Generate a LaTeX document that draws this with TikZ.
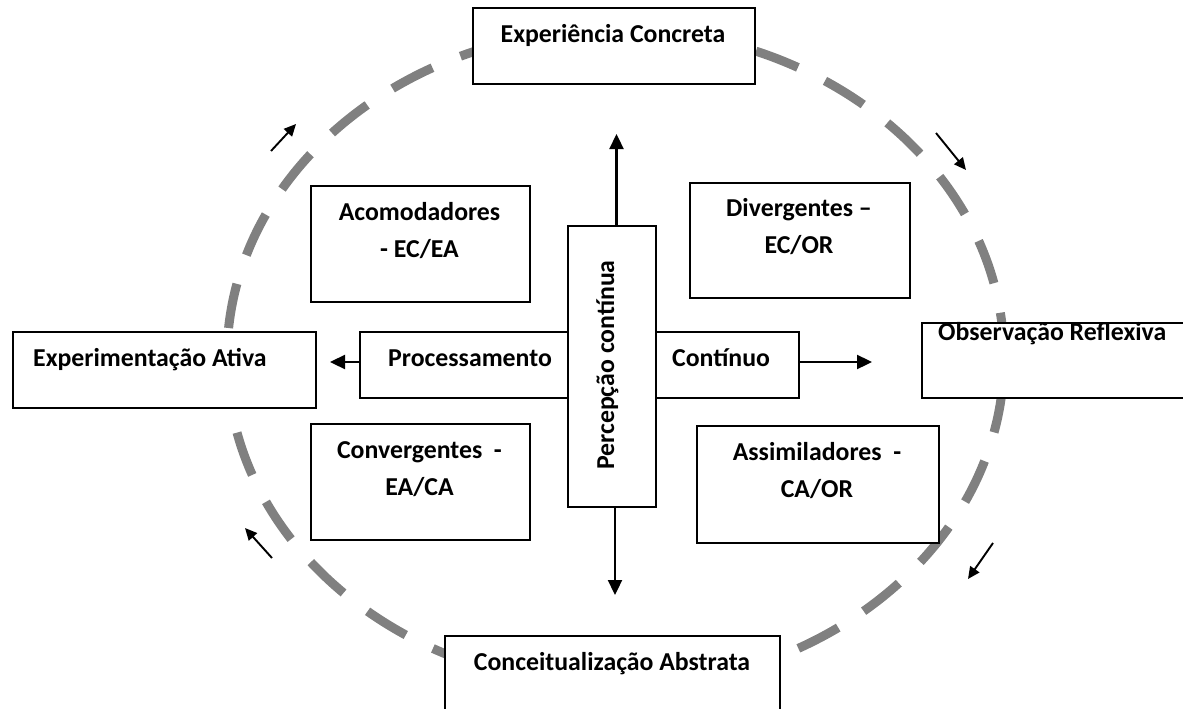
\documentclass[tikz,border=0pt]{standalone}
\usepackage{fontspec}
\setmainfont{Carlito}
\usetikzlibrary{arrows.meta}
\definecolor{ringgray}{RGB}{128,128,128}
\tikzset{
  box/.style={draw=black, line width=1.9pt, fill=white, inner sep=0pt, anchor=north west},
  lbl/.style={inner sep=0pt, font=\fontsize{25.8}{37}\selectfont\bfseries, align=center},
  bigarrow/.style={draw=black, line width=2.3pt, -{Triangle[length=15pt,width=14pt]}},
  smallarrow/.style={draw=black, line width=1.9pt, -{Triangle[length=12pt,width=11pt]}},
  ring/.style={draw=ringgray, line width=9pt, dash pattern=on 45pt off 30.26pt, dash phase=45pt}
}
\begin{document}
\begin{tikzpicture}[x=1pt,y=-1pt]
\useasboundingbox (0,0) rectangle (1183,709);
% dashed cycle
\draw[ring] (615.5,358) ellipse [x radius=388.5, y radius=329];
% outer boxes
\node[box, minimum width=282pt, minimum height=76pt] (ec) at (472,7) {};
\node[box, minimum width=303pt, minimum height=76pt] (ea) at (12,331) {};
\node[box, minimum width=270pt, minimum height=75pt] (or) at (921,322) {};
\node[box, minimum width=335pt, minimum height=80pt] (ca) at (444,635) {};
% quadrant boxes
\node[box, minimum width=219pt, minimum height=116pt] (acom) at (310,185) {};
\node[box, minimum width=220pt, minimum height=115pt] (div) at (689,182) {};
\node[box, minimum width=219pt, minimum height=116pt] (conv) at (310,423) {};
\node[box, minimum width=242pt, minimum height=117pt] (assim) at (696,425) {};
% central axis
\node[box, minimum width=208pt, minimum height=66pt] (proc) at (359,331) {};
\node[box, minimum width=144pt, minimum height=66pt] (cont) at (654,331) {};
\node[box, minimum width=88pt, minimum height=281pt] (perc) at (567,225) {};
% texts
\node[lbl, anchor=base] (ect) at (613,43) {Experiência Concreta};
\node[lbl, anchor=base west] (eat) at (33,366) {Experimentação Ativa};
\node[lbl, anchor=base west] (ort) at (938,340) {Observação Reflexiva};
\node[lbl, anchor=base] (cat) at (612,670) {Conceitualização Abstrata};
\node[lbl, anchor=base] (acomt) at (419.5,257) {Acomodadores\\- EC/EA};
\node[lbl, anchor=base] (divt) at (799,253) {Divergentes –\\EC/OR};
\node[lbl, anchor=base] (convt) at (419.5,495) {Convergentes~ -\\EA/CA};
\node[lbl, anchor=base] (assimt) at (817,497) {Assimiladores~ -\\CA/OR};
\node[lbl, anchor=base west] (proct) at (388,366) {Processamento};
\node[lbl, anchor=base west] (contt) at (672,366) {Contínuo};
\node[lbl, anchor=base, rotate=90] (perct) at (614,365) {Percepção contínua};
% axis arrows
\coordinate (upend) at (616.5,134);
\coordinate (dnend) at (615,595);
\coordinate (ltend) at (330,362);
\coordinate (rtend) at (872,362);
\draw[bigarrow] (perc.north -| upend) -- (upend);
\draw[bigarrow] (perc.south -| dnend) -- (dnend);
\draw[bigarrow] (proc.west |- ltend) -- (ltend);
\draw[bigarrow] (cont.east |- rtend) -- (rtend);
% cycle direction arrows
\coordinate (a1s) at (271,151); \coordinate (a1e) at (296,124);
\coordinate (a2s) at (936,133); \coordinate (a2e) at (966,170);
\coordinate (a3s) at (993,543); \coordinate (a3e) at (968,579);
\coordinate (a4s) at (272,558); \coordinate (a4e) at (245,528);
\draw[smallarrow] (a1s) -- (a1e);
\draw[smallarrow] (a2s) -- (a2e);
\draw[smallarrow] (a3s) -- (a3e);
\draw[smallarrow] (a4s) -- (a4e);
\end{tikzpicture}
\end{document}
